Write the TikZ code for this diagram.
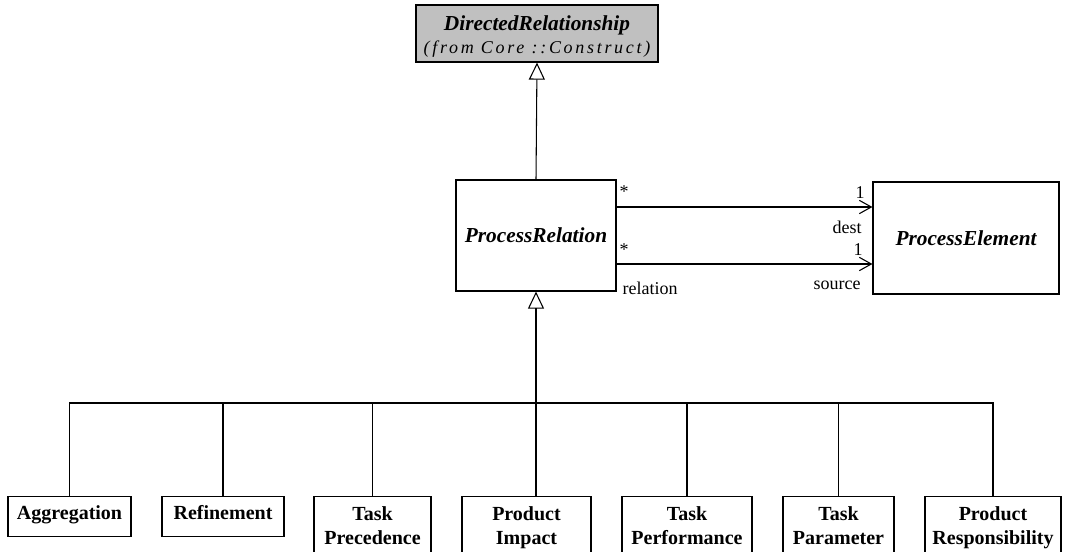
\documentclass[tikz,border=0pt]{standalone}
\usepackage{fontspec}
\setmainfont{Liberation Serif}
\usepackage{tikz}
\usetikzlibrary{arrows.meta}

\definecolor{metagray}{RGB}{192,192,192}

\begin{document}
\begin{tikzpicture}[x=0.75pt,y=0.75pt,yscale=-1,xscale=1,
    abstractcls/.style={draw, line width=0.9pt, inner sep=0.75pt, align=center,
      font=\fontsize{16}{18}\selectfont\bfseries\itshape},
    subcls/.style={draw, line width=0.9pt, inner sep=0.75pt, align=center, anchor=north,
      font=\fontsize{15}{18}\selectfont\bfseries},
    oneline/.style={subcls, minimum height=30pt, text height=10.5pt, text depth=6pt},
    twoline/.style={subcls, minimum height=57pt, text depth=14pt},
    gen/.style={line width=0.8pt},
    genarrow/.style={gen, -{Triangle[open,length=12.75pt,width=12pt]}},
    bus/.style={line width=1.5pt},
    assoc/.style={line width=0.8pt, -{Straight Barb[length=9pt,width=10pt]}},
    role/.style={inner sep=0.75pt, font=\fontsize{13.5}{15}\selectfont}]

            \useasboundingbox (0,0) rectangle (1069,552);
            \clip (0,0) rectangle (1069,552);

            % Classes
            \node [abstractcls, fill=metagray, minimum width=181.5pt, minimum height=42.75pt,
                   text height=33.75pt, text depth=3pt] (dirrel) at (537,33.5)
              {DirectedRelationship\\[-0.75pt]{\fontsize{13.5}{15}\selectfont\mdseries\itshape\addfontfeature{LetterSpace=15}(from Core ::Construct)}};
            \node [abstractcls, minimum width=120pt, minimum height=83.25pt] (procrel) at (536,235.5) {ProcessRelation};
            \node [abstractcls, minimum width=139.5pt, minimum height=84pt] (procelem) at (966,238) {ProcessElement};

            % Subclasses
            \node [oneline, minimum width=92.25pt] (aggr) at (69.5,496) {Aggregation};
            \node [oneline, minimum width=91.5pt] (refine) at (223,496) {Refinement};
            \node [twoline, minimum width=87.75pt] (taskprec) at (372.5,496) {Task\\Precedence};
            \node [twoline, minimum width=96.75pt] (prodimp) at (526.5,496) {Product\\Impact};
            \node [twoline, minimum width=97.5pt] (taskperf) at (687,496) {Task\\Performance};
            \node [twoline, minimum width=83.25pt] (taskpar) at (838.5,496) {Task\\Parameter};
            \node [twoline, minimum width=102pt] (prodresp) at (993,496) {Product\\Responsibility};

            % Generalisations
            \draw [genarrow] (procrel.north) -- (dirrel.south);
            \coordinate (hub) at (536,403);
            \draw [bus, -{Triangle[open,length=12.75pt,width=12pt,line width=0.8pt]}] (hub) -- (procrel.south);
            \draw [bus] (refine.north |- hub) -- (taskpar.north |- hub);
            \draw [gen] (hub) -| (aggr.north);
            \draw [gen] (hub) -| (refine.north);
            \draw [gen] (hub) -| (taskprec.north);
            \draw [gen] (hub) -- (hub |- prodimp.north);
            \draw [gen] (hub) -| (taskperf.north);
            \draw [gen] (hub) -| (taskpar.north);
            \draw [gen] (hub) -| (prodresp.north);

            % Associations
            \coordinate (destend) at (616,207);
            \coordinate (srcend) at (616,264);
            \draw [assoc] (destend) -- (destend -| procelem.west);
            \draw [assoc] (srcend) -- (srcend -| procelem.west);

            % Labels
            \node [role] (mdest) at (624,192) {*};
            \node [role] (odest) at (860,193) {1};
            \node [role] (ldest) at (847,227) {dest};
            \node [role] (msrc) at (624,250) {*};
            \node [role] (osrc) at (858,250) {1};
            \node [role] (lsrc) at (837,285) {source};
            \node [role] (lrel) at (650,288) {relation};

\end{tikzpicture}
\end{document}
